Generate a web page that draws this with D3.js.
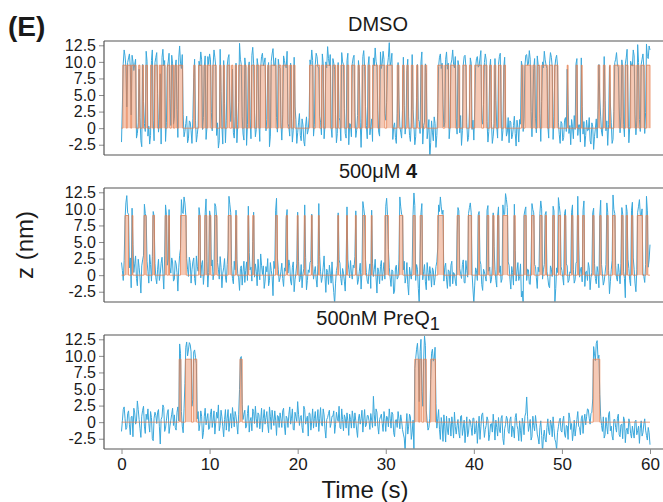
<!DOCTYPE html>
<html>
<head>
<meta charset="utf-8">
<style>
  body { margin: 0; background: #fff; }
  text { font-family: "Liberation Sans", Arial, sans-serif; fill: #1a1a1a; }
</style>
<script src="https://cdnjs.cloudflare.com/ajax/libs/d3/7.8.5/d3.min.js"></script>
</head>
<body>
<div id="chart"></div>
<script>
// ---- data ----
const sampleStep = 0.2; // s between the main samples; the "Mid" arrays sit halfway between
const xTicks = [0, 10, 20, 30, 40, 50, 60];
const yTicks = [-2.5, 0, 2.5, 5, 7.5, 10, 12.5];
const panelTitles = ["DMSO", "500\u03bcM ", "500nM PreQ"];
const highLevels = [9.5, 9.0, 9.5];

// high-z dwell intervals of the idealized two-state fit [start, end] (s)
const dmsoHigh = [[0.15,0.55],[0.65,1.05],[1.15,1.65],[1.95,2.1],[2.35,2.5],[2.75,2.95],[3.3,3.55],[3.75,4.1],[4.3,4.45],[4.55,4.95],[5.2,5.5],[5.65,5.9],[6.05,6.3],[6.45,6.95],
  [8.2,8.35],[8.75,9.15],[9.35,9.6],[9.75,10.15],[10.35,10.75],[11.15,11.3],[11.55,11.7],[12.0,12.3],[12.5,12.65],[12.9,13.05],[13.3,13.7],[13.9,14.15],[14.4,14.55],[14.75,15.1],[15.3,15.6],[15.75,16.35],[16.6,16.75],[16.95,17.55],[17.8,18.1],[18.3,18.9],[19.1,19.3],[19.5,19.7],
  [21.35,21.75],[22.0,22.5],[22.7,22.95],[23.15,23.75],[24.0,24.3],[24.5,24.65],[24.9,25.3],[25.6,25.8],[26.1,26.5],[26.85,27.0],[27.3,27.7],[28.0,28.2],[28.5,29.1],[29.3,29.9],[30.1,30.75],[31.3,31.5],[31.9,32.1],[32.4,32.55],[32.9,33.1],[33.5,33.65],[34.0,34.2],[34.45,34.65],
  [35.9,36.5],[36.7,37.15],[37.35,37.95],[38.2,38.4],[38.75,39.15],[39.5,39.75],[40.1,40.9],[41.1,41.5],[41.8,42.0],[42.3,42.5],[42.8,43.1],[43.4,43.6],
  [45.4,45.6],[45.8,46.5],[46.7,46.95],[47.2,47.5],[47.7,48.35],[48.55,48.95],[49.15,49.55],
  [50.6,50.7],[51.6,51.75],[52.2,52.3],[54.1,54.3],[54.7,54.9],[55.4,55.5],[55.9,56.5],[56.7,56.95],[57.2,57.5],[57.8,58.3],[58.5,58.75],[58.95,59.35],[59.6,60.0]];

const cmpdHigh = [[0.4,0.8],[1.2,1.3],[2.55,2.8],[3.55,3.75],[4.95,5.15],[5.35,5.45],[6.7,7.35],[8.75,8.95],[9.45,9.7],[9.95,10.15],[10.6,10.85],[12.1,12.45],[12.95,13.1],[14.35,14.45],[14.9,15.05],[17.5,17.7],[18.7,18.85],[19.95,20.05],[20.75,20.85],[21.55,21.65],[22.35,22.45],[24.55,24.65],[25.55,25.65],[26.55,26.65],[27.4,27.7],[28.35,28.45],[29.9,30.3],[31.55,31.95],[33.1,33.35],[33.9,34.15],[35.9,36.55],[38.1,38.35],[39.35,39.75],[40.5,40.65],[41.5,41.7],[42.15,42.3],[42.7,42.85],[43.3,43.85],[44.55,44.7],[45.7,45.95],[46.55,46.85],[47.5,47.75],[48.1,48.25],[48.95,49.15],[49.6,49.85],[50.3,50.45],[51.1,51.25],[51.75,51.9],[52.35,52.55],[53.5,53.65],[54.3,54.45],[55.1,55.25],[55.75,56.05],[56.75,56.95],[57.3,57.45],[57.9,58.05],[58.55,59.15],[59.55,59.75]];

const preq1High = [[6.55,6.75],[7.25,7.95],[8.15,8.55],[13.45,13.7],[33.3,33.75],[33.85,34.1],[34.3,34.6],[35.1,35.65],[53.55,54.3]];

// raw z traces (nm): main samples at 0, 0.2, ... 60 s
const dmsoTrace = [
  -2.1, 9.8, 10.9, 3.2, 10.6, 9.2, 11.0, 8.7, 10.4, -0.8,
  8.9, -1.9, 9.6, 0.7, 11.6, -1.2, -2.4, 10.2, 1.1, 9.9,
  11.4, -0.6, 8.2, 10.7, 9.4, -2.0, 9.1, 11.3, 0.4, 9.7,
  1.5, 10.3, -1.4, 12.4, 9.0, 2.1, -0.5, 1.8, -1.6, 0.9,
  -2.3, 7.6, 1.2, -1.0, 10.1, 11.5, -0.2, 9.3, -1.7, 10.8,
  11.2, 2.4, 9.5, 10.7, -1.1, -3.0, 11.9, 0.3, 10.2, -2.2,
  9.4, 11.1, 1.0, 8.9, -1.5, 9.8, 0.6, 12.8, 9.6, -0.9,
  10.6, -2.6, 9.1, 1.4, 11.0, 9.7, -1.3, 10.5, 0.8, 9.2,
  11.3, 9.9, -0.4, 8.8, -2.8, 10.1, 12.0, 9.5, 1.6, 10.4,
  9.0, -1.8, 10.9, 9.3, 11.6, 0.2, 9.8, -2.1, 10.7, 1.3,
  -0.7, 2.2, -1.9, 0.5, -2.7, 1.7, -0.3, 10.3, 11.8, -1.2,
  9.6, 10.8, 9.1, 0.9, 11.2, -1.6, 10.0, 12.3, 9.4, 0.1,
  10.5, 8.9, -2.2, 9.9, 1.1, 11.4, 9.6, -0.8, 10.2, -2.5,
  0.6, 9.7, 11.0, -1.4, 1.9, 8.6, -2.9, 10.8, 9.3, 0.4,
  9.5, -1.0, 1.4, 10.6, 12.1, 9.2, -0.6, 11.5, 9.8, 10.4,
  1.2, 9.4, 12.9, 10.1, -1.7, 0.8, -2.3, 9.9, 0.3, -1.5,
  10.7, -0.9, 8.7, 1.7, -2.0, 11.1, 0.5, -1.3, 9.6, 1.0,
  10.0, -2.4, 0.9, 8.4, -0.4, -4.8, 1.1, -1.9, 0.7, -1.1,
  9.3, 11.2, 9.8, 0.2, 10.4, 8.9, -1.6, 9.7, 11.8, 9.1,
  1.4, 10.2, -0.7, -2.6, 9.5, 11.0, 0.8, -1.4, 10.6, -0.2,
  -1.8, 9.1, 10.8, 9.4, 11.7, 0.6, 9.9, 10.3, -2.1, 9.0,
  1.0, -1.2, 10.5, 0.3, 9.6, 11.3, -1.9, 9.2, 2.0, -0.6,
  -2.2, 0.9, -1.0, 1.8, -2.7, 0.1, 1.3, 10.1, -0.5, 9.4,
  11.1, 9.7, 10.4, -1.3, 9.0, 1.5, 10.9, 9.3, -2.0, 10.0,
  11.6, 9.5, 0.4, 9.8, 10.7, -1.7, 9.2, 11.0, 0.9, -2.3,
  0.7, -1.4, 1.6, 8.9, -0.8, -2.5, 0.2, 1.9, 9.7, -1.1,
  0.5, 10.6, -0.9, -2.8, 1.2, -0.3, -1.9, 0.8, -3.2, 0.0,
  -1.5, 9.6, 1.7, -1.2, 10.8, -0.4, -2.6, 9.3, 0.9, -1.7,
  9.9, 11.4, 9.2, -0.7, 10.3, 0.6, 9.7, 11.9, -2.2, 10.1,
  9.4, 10.9, -1.0, 12.6, 1.3, 9.6, 11.2, -0.8, 12.7, 10.5,
  11.8
];
// values at 0.1, 0.3, ... 59.9 s
const dmsoMid = [
  3.5, 11.8, 9.3, 9.9, 11.2, 2.0, 10.1, 9.6, -1.5, 0.8,
  1.6, -2.8, 4.0, -0.5, 10.1, 0.3, -1.1, 11.8, -1.9, 10.7,
  5.2, 1.3, -2.4, 11.9, 10.2, 0.8, 10.0, 4.5, 11.0, 0.6,
  9.2, 2.8, 10.6, 9.8, 11.1, -1.3, 0.7, -2.2, 1.1, -0.4,
  1.5, 10.4, -2.1, 0.4, 9.4, 10.3, 1.6, 10.9, 0.1, 9.6,
  10.3, -0.4, 11.8, 9.3, 0.8, -1.9, 5.5, -2.4, 3.7, 1.2,
  10.6, 4.1, 2.6, -0.7, 1.8, -2.2, 3.9, 10.4, 1.7, -1.8,
  9.1, 0.5, 10.0, -1.6, 12.2, 2.3, -0.2, 9.4, -2.0, 10.8,
  9.4, 10.6, 1.3, 9.9, -1.2, 11.2, 9.4, 10.6, -0.6, 9.2,
  0.9, 2.0, 10.2, 9.1, 0.7, -1.2, 1.5, -0.3, 3.2, -2.3,
  0.8, -1.1, 1.4, -2.0, 0.3, -0.9, 1.6, 9.6, 10.2, 0.6,
  11.3, 9.2, 1.8, -1.0, 9.7, 0.4, 9.1, 10.5, 11.1, -1.4,
  9.8, 2.1, -0.8, 1.6, -1.9, 10.0, 3.0, -1.5, 11.3, 0.7,
  -1.3, 10.6, 2.4, -0.3, 10.2, 0.9, 1.5, 11.7, 3.3, -1.6,
  10.8, 0.3, -2.0, 9.4, 10.1, 2.6, -1.2, 9.0, 11.6, 2.2,
  3.9, 10.7, 9.5, 11.3, 0.2, -1.4, 2.2, 4.1, -0.6, 2.7,
  3.4, 0.6, 10.4, -1.1, 0.9, 2.8, -2.5, 4.6, 1.3, -0.8,
  11.5, 0.4, 9.7, -1.6, 1.3, -2.2, -0.6, 1.7, -2.9, 2.4,
  10.7, 9.0, 3.5, 0.9, 11.5, 9.8, 0.3, 10.3, 9.6, 10.8,
  -0.9, 9.3, 1.9, -0.4, 10.8, 9.2, -2.0, 2.3, 9.8, 1.2,
  2.9, 10.5, 9.2, 10.6, 1.4, 3.6, 11.2, 1.0, -0.5, 10.4,
  -2.3, 0.7, 4.2, -1.5, 10.8, 2.6, -0.4, 10.7, -1.2, 1.6,
  1.1, -1.6, 0.4, -0.8, 1.2, -2.1, 0.6, 9.2, 1.4, 11.0,
  9.5, 11.7, 2.5, 3.8, 10.5, -0.7, 9.6, 2.2, 4.0, 9.1,
  10.3, 9.0, -1.5, 11.4, 9.2, 1.8, 10.5, 9.4, -1.0, 1.0,
  -1.9, 1.2, -0.5, 3.6, 0.4, 1.3, -1.6, -0.2, 10.5, 0.5,
  -2.1, 3.3, 1.0, -1.1, -0.4, 1.6, -2.4, 0.2, -1.3, 1.4,
  2.8, 4.4, -0.6, 3.1, 4.2, 1.1, 0.6, 3.8, -2.3, 2.5,
  10.4, 9.5, 3.2, 1.7, 9.1, -1.3, 10.6, 4.1, 0.2, 9.5,
  11.8, 2.0, 1.1, 9.9, -0.5, 10.4, 9.1, 2.4, 10.8, 12.4
];

const cmpdTrace = [
  1.9, -0.8, 8.4, 12.0, 9.2, 2.6, 10.1, 0.4, 2.9, -1.6,
  1.2, -2.7, 2.3, 10.7, 8.8, 0.6, 3.1, -0.9, 9.6, 1.8,
  -1.3, 2.4, 0.2, 2.7, -2.1, 10.6, 1.5, 9.9, 0.3, 2.0,
  -0.6, 1.7, -2.4, 3.0, 11.4, 9.3, 10.9, 2.5, -0.2, 1.9,
  0.8, 2.6, -1.5, 1.3, 10.2, -0.4, 2.2, 0.5, 11.5, -1.8,
  9.7, 1.4, -0.7, 10.8, 8.6, 0.9, 2.8, -1.9, 1.1, -0.3,
  1.6, 11.9, 9.4, -0.5, 2.1, 9.8, 0.2, -2.3, 1.4, 0.6,
  -1.1, 2.0, 10.4, 0.8, -0.9, 9.5, 1.7, -1.6, 0.4, 3.2,
  0.1, -2.0, 1.3, 2.5, -0.8, 0.7, -3.1, 1.0, 11.6, 0.9,
  -0.4, 1.8, -1.7, 0.6, 9.9, 2.3, -0.9, 1.2, -2.5, 0.3,
  9.5, -1.0, 1.6, 0.2, 10.6, -2.2, 0.8, 1.9, 9.2, -0.6,
  1.3, -1.8, 10.8, 0.5, -0.3, 2.9, -2.6, 0.4, 1.5, -1.2,
  -0.9, -4.4, 0.7, 9.4, 1.8, -1.5, 0.3, -2.4, 10.3, 0.9,
  2.2, -0.6, 1.1, 9.7, -1.4, 0.6, -2.1, 11.1, 9.0, 0.4,
  -1.3, 1.7, 9.8, -0.2, 2.4, -2.7, 0.5, 1.3, -0.8, 1.9,
  10.4, 9.1, 1.2, -1.7, 0.6, -2.4, 1.5, -0.3, 11.8, 9.2,
  0.8, -1.2, 1.9, -3.0, 0.2, 1.4, 12.4, -0.8, 0.9, -4.3,
  9.4, -0.7, 1.6, -2.2, 0.4, 1.3, -1.8, 0.7, -0.4, 2.0,
  10.6, 11.8, 9.2, -0.9, 1.8, -2.0, 0.6, 1.5, -1.3, 0.2,
  -1.6, 10.2, 1.0, -0.5, 2.3, -1.2, 0.7, 9.3, 10.9, 0.3,
  -4.2, 1.1, -0.8, 9.6, 1.6, -2.3, 0.5, -0.9, 10.5, 1.2,
  -0.7, 9.4, 0.9, -1.8, 10.3, 1.4, -0.6, 9.1, 12.3, 10.2,
  1.5, -2.1, 0.4, 10.7, -0.9, 1.9, -0.2, -3.3, -4.3, 9.8,
  -0.8, 0.8, -1.4, 10.8, 9.4, 1.3, -2.0, 0.5, 11.2, -0.6,
  1.6, 9.6, -0.4, -1.9, 0.9, 10.4, -4.2, 1.1, 11.7, 9.3,
  0.7, -1.5, 9.9, 1.4, -0.8, 0.3, 10.6, -1.2, 1.8, 11.9,
  -0.3, 1.2, 9.8, -1.7, 0.6, 1.9, -2.2, 0.4, 10.1, -0.5,
  1.3, -1.9, 11.3, 0.2, -0.9, 1.6, 9.5, -2.8, 0.8, 12.1,
  9.3, -0.4, 1.7, -1.3, 10.2, 0.6, -3.4, 9.6, 1.0, -1.6,
  11.0, 0.9, -2.5, 9.5, 11.4, 9.0, 0.3, -1.1, 11.9, 1.2,
  4.6
];
const cmpdMid = [
  0.7, 2.2, 10.9, 9.4, 1.1, -1.9, 4.6, 1.7, -0.5, 2.4,
  -0.3, 1.4, 3.0, 9.3, 2.1, -1.2, 1.6, 2.8, 8.9, -0.4,
  0.9, -0.8, 1.8, 0.3, 2.9, 9.1, 2.3, 1.2, 2.6, -0.9,
  2.2, 0.4, 1.1, 4.0, 9.5, 11.8, 9.0, 0.9, 2.7, -1.2,
  2.0, -0.5, 2.9, 0.6, 9.0, 1.6, -1.4, 9.4, 2.1, 0.4,
  8.8, 2.3, 0.5, 10.4, 1.9, -0.6, 1.2, 0.3, 2.5, -1.1,
  3.8, 10.7, 1.5, -1.3, 0.8, 2.4, -0.4, 1.0, -1.5, 2.1,
  0.7, -0.8, 3.4, 1.2, 5.1, -0.3, 0.6, 2.4, -0.7, 1.5,
  1.4, -0.9, 0.5, -1.6, 1.9, -0.2, 2.1, 9.8, 2.6, -1.0,
  0.6, -0.5, 1.1, 8.5, 0.3, 1.4, -1.5, 2.0, -0.7, 1.7,
  2.1, -0.4, -1.9, 1.0, 2.7, -0.8, 0.4, 2.2, 1.6, 0.5,
  -0.6, 1.6, 2.8, -1.1, 1.2, -0.2, 0.9, -1.4, 0.3, 2.0,
  -2.6, -1.2, 1.4, 2.3, -0.5, 1.0, -0.9, 1.7, 2.4, -0.4,
  0.3, 1.5, 2.8, 0.9, -0.7, 1.8, 0.4, 10.1, 2.4, -0.9,
  0.6, -2.0, 1.8, 0.9, -0.4, 1.1, -1.3, 2.2, 0.5, -0.6,
  11.6, 3.9, -0.4, 0.8, -2.8, 1.1, -0.6, 2.3, 10.3, 9.0,
  2.1, -0.3, -1.4, 1.2, -0.6, 9.2, 10.5, 1.6, -2.0, 3.5,
  10.8, 0.5, -1.0, 1.9, -0.8, 0.2, 1.1, -1.5, 1.3, 4.1,
  9.6, 10.3, 9.8, 1.2, -0.6, 0.8, -1.7, 2.1, 0.4, -0.9,
  6.2, 9.7, 0.2, 1.6, -1.1, 2.2, -0.3, 10.2, 9.4, -2.1,
  -1.5, 0.7, 9.1, 2.2, -1.4, 0.9, -0.2, 9.8, 0.6, -1.2,
  1.4, 4.3, -0.8, 8.9, 0.4, -1.1, 10.6, 9.2, 11.4, 2.0,
  -0.6, 1.3, -1.5, 3.7, 0.6, -0.8, 1.7, -2.4, 9.0, 10.3,
  0.9, -1.3, 2.0, 9.9, 1.6, -0.4, 1.2, 9.3, 10.0, 0.8,
  9.2, 0.6, -1.6, 1.4, -0.2, 9.7, -2.0, 0.4, 10.5, 1.3,
  -0.4, 9.3, 1.7, -1.1, 0.5, 9.5, 0.9, -0.7, 2.1, 5.0,
  0.8, -1.0, 11.2, 0.5, -0.8, 1.1, -0.4, 9.4, 1.8, -1.3,
  0.4, 9.0, 1.6, -1.5, 0.3, 10.9, 0.7, -1.0, 2.2, 9.9,
  1.5, -0.9, 0.4, 1.8, 9.2, -0.5, 10.6, 2.4, -0.8, 9.8,
  2.6, -1.2, 0.8, 10.4, 9.1, 10.0, -0.2, 1.6, 9.7, 2.3
];

const preq1Trace = [
  -1.4, 1.9, 0.6, -0.8, 1.7, -1.9, 0.9, 2.1, -0.3, 3.2,
  0.4, -2.3, 1.8, -0.6, 1.2, 2.0, -1.5, 0.7, -2.8, 1.5,
  -0.2, 1.9, -3.3, 0.8, 2.2, -0.9, 1.4, -1.7, 0.3, 2.1,
  1.1, -1.2, 2.3, 11.8, 1.6, -1.6, 5.8, 12.1, 10.9, 11.7,
  2.4, 10.6, 9.8, 0.5, -1.3, 1.7, -2.5, 0.9, -0.4, 1.3,
  -0.9, 2.0, 0.3, -1.8, 1.5, 2.6, -0.5, 0.8, -2.2, 1.9,
  0.6, -1.4, 1.3, 2.2, -0.7, 0.9, -1.8, 4.9, 9.9, 0.4,
  1.8, -0.6, 2.5, 0.2, -1.3, 1.6, 2.4, -0.8, 1.1, 0.3,
  -1.5, 1.9, 0.7, -0.4, 2.3, -1.1, 0.5, 1.7, -2.0, 0.9,
  1.4, -0.8, 2.1, -1.9, 0.6, 1.2, -0.3, 2.0, -1.2, 0.8,
  3.1, -0.5, 1.0, -1.6, 1.9, 0.4, -2.1, 1.3, 0.2, -0.9,
  1.6, 0.3, -1.4, 2.2, -0.6, 1.1, -2.4, 0.7, 1.8, -0.2,
  0.9, -1.7, 1.5, 0.1, -0.8, 2.0, -1.3, 0.6, 1.4, -2.0,
  0.4, 1.7, -0.9, 0.2, -2.3, 1.2, 0.5, -1.5, 1.9, -0.4,
  1.0, -1.1, 0.3, 3.9, -0.6, 1.5, -1.8, 0.8, -0.2, 1.6,
  -1.4, 0.7, 2.0, -0.9, 1.2, -2.2, 0.4, 1.6, -1.0, 0.2,
  -1.8, -4.4, 1.3, -0.6, 0.8, -1.5, -4.5, 9.6, 11.9, 3.1,
  12.5, 2.4, 13.0, 1.8, -1.2, 0.6, 10.4, 9.2, 11.3, -0.9,
  1.9, -2.6, -0.4, 1.1, -3.0, -1.2, 0.6, -2.1, -0.3, 1.5,
  -1.8, 0.4, -2.4, 1.0, -0.9, -3.1, 0.8, -1.5, 0.2, -2.0,
  0.6, -1.3, -3.2, 0.9, -0.7, 1.4, -2.3, -0.5, 0.3, -1.9,
  -0.2, 1.2, -2.7, -0.8, 0.7, -1.6, 1.0, -3.4, -0.4, 0.5,
  -1.7, 0.8, -0.6, -2.4, 1.3, -1.1, 0.2, -2.9, -0.3, 0.9,
  3.8, -1.4, 0.4, -2.2, -0.5, 1.0, -1.8, -3.3, 0.2, -4.6,
  -1.2, -3.0, 0.5, -1.9, -0.4, 0.8, -2.6, -4.2, -0.7, 0.6,
  -1.5, 0.9, -2.3, -0.6, 1.4, -1.1, -2.8, 0.3, -0.9, 1.6,
  -0.8, 0.5, -1.7, 1.2, 0.8, 1.9, -0.3, 1.5, 11.4, 9.3,
  12.3, 10.1, 0.9, -1.4, -2.4, 0.7, -1.8, 1.6, -0.6, -2.7,
  0.4, -1.5, 1.2, -2.2, -0.3, 0.8, -3.1, -0.9, 0.5, -1.7,
  -0.6, -2.4, 0.3, -1.3, -3.2, 0.2, -1.6, 0.5, -2.0, -0.8,
  -3.4
];
const preq1Mid = [
  0.2, 2.3, -1.1, 1.3, -0.4, 0.8, -2.2, 1.4, 0.1, 1.9,
  -1.0, 0.9, 2.4, -1.7, 0.4, -0.2, 1.6, -2.5, 0.6, 1.0,
  1.5, -0.7, 0.4, 2.6, -1.4, 0.3, 1.9, -0.6, 1.2, -0.5,
  -0.8, 1.5, 0.2, 10.4, -0.6, 2.0, 11.3, 10.0, 12.0, 10.6,
  3.4, 10.9, 8.8, 1.6, -0.3, 0.9, -1.6, 2.1, 0.5, -1.1,
  1.2, -0.8, 1.7, -0.1, 0.6, -1.3, 1.8, -0.7, 0.4, -1.2,
  1.9, 0.2, -0.9, 0.8, 1.6, -0.4, 1.1, 9.7, 2.7, 1.2,
  -0.9, 1.3, -1.5, 0.7, 2.0, -0.2, 0.5, 1.4, -1.0, 2.1,
  0.6, -0.3, 1.6, -1.6, 0.9, 1.8, -0.5, 0.3, 1.0, -0.8,
  0.5, 1.7, -0.6, 0.9, -0.8, 2.3, 0.6, -1.1, 1.5, 0.1,
  1.2, 0.7, -0.8, 2.4, -0.3, 0.9, 1.4, -1.2, 2.0, 0.6,
  -0.7, 1.9, 0.5, -0.3, 2.0, -1.1, 0.4, 1.3, -0.8, 0.9,
  1.7, -0.4, 0.6, 2.4, -1.0, 0.4, 1.1, -0.9, 0.2, 1.2,
  -0.9, 0.6, 1.4, -1.2, 0.5, -0.3, 1.8, 0.3, -0.7, 1.0,
  0.2, 1.3, -0.8, 1.1, 2.0, -0.6, 0.4, 1.2, -1.4, 0.5,
  0.9, -0.7, 0.6, 1.5, -1.6, 0.3, -0.8, 0.5, 1.1, -1.1,
  -2.4, -0.6, -1.8, 1.2, -2.6, 0.3, 8.1, 11.0, 9.4, 10.7,
  4.6, 9.2, 11.6, 0.2, -0.8, 6.4, 11.0, 9.6, 2.8, 0.5,
  -1.1, 0.7, -2.9, -0.6, 0.9, -1.9, -0.2, 0.8, -2.4, -0.7,
  -0.5, -1.6, 0.9, -2.0, 0.3, -1.2, -2.2, 0.4, -0.8, 0.6,
  -1.8, 0.2, -0.9, -2.6, 1.1, -0.4, -1.1, 0.8, -2.8, -0.3,
  -1.5, -0.4, 0.3, -2.1, -1.2, 0.6, -2.5, -1.0, 0.9, -1.4,
  0.4, -2.2, -1.1, 0.7, -0.5, -2.8, -1.3, 0.6, -1.9, 1.4,
  0.8, -0.6, -2.7, 0.9, -1.3, -0.2, -2.4, -0.8, -2.0, -2.2,
  -2.6, -0.8, -1.4, 0.3, -2.2, -1.0, -3.0, -1.6, 0.2, -1.3,
  0.2, -1.8, -0.5, -2.6, 0.6, -0.2, -1.5, -2.1, 0.4, -0.6,
  -1.9, 1.0, 0.2, -0.4, 2.0, 0.6, 1.3, 3.5, 10.3, 11.9,
  9.6, 4.2, -0.5, 0.8, -1.9, -0.7, 1.2, -1.3, -2.1, 0.4,
  -0.8, 0.6, -1.9, -0.4, -2.5, 0.3, -1.2, -1.8, -0.1, -2.4,
  -1.5, 0.1, -1.9, -0.6, -0.9, -2.1, -0.3, -1.2, -2.7, -1.6
];

// ---- layout ----
const width = 663, height = 502;
const panelTops = [41, 188, 335];
const panelH = 114;
const frameLeft = 104, frameRight = 670;
const blue = "#3aa8dc", orange = "#e67f4f";

const svg = d3.select("#chart").append("svg")
  .attr("width", width)
  .attr("height", height);

const x = d3.scaleLinear().domain([0, 60]).range([121.5, 650]);

const traces = [dmsoTrace, cmpdTrace, preq1Trace];
const mids = [dmsoMid, cmpdMid, preq1Mid];
const highs = [dmsoHigh, cmpdHigh, preq1High];

svg.append("text")
  .attr("x", 8).attr("y", 36)
  .style("font-size", "28px").style("font-weight", "bold")
  .text("(E)");

panelTops.forEach((top, p) => {
  const y = d3.scaleLinear().domain([-4.05, 13.15]).range([top + panelH, top]);
  const g = svg.append("g");

  const clipId = "clip" + p;
  svg.append("clipPath").attr("id", clipId)
    .append("rect")
    .attr("x", frameLeft).attr("y", top)
    .attr("width", frameRight - frameLeft).attr("height", panelH);

  const plot = g.append("g").attr("clip-path", "url(#" + clipId + ")");

  // raw trace: merge main samples and half-step samples
  const pts = [];
  traces[p].forEach((v, i) => {
    pts.push([i * sampleStep, v]);
    if (i < mids[p].length) pts.push([i * sampleStep + sampleStep / 2, mids[p][i]]);
  });
  plot.append("path")
    .datum(pts)
    .attr("fill", "none")
    .attr("stroke", blue)
    .attr("stroke-width", 1)
    .attr("stroke-linejoin", "round")
    .attr("d", d3.line().x(d => x(d[0])).y(d => y(d[1])));

  // idealized two-state fit
  const hi = highLevels[p];
  plot.selectAll("rect.hi")
    .data(highs[p])
    .enter().append("rect")
    .attr("class", "hi")
    .attr("x", d => x(d[0]))
    .attr("width", d => Math.max(0.8, x(d[1]) - x(d[0])))
    .attr("y", y(hi))
    .attr("height", y(0) - y(hi))
    .attr("fill", orange)
    .attr("fill-opacity", 0.42);

  const fit = [[0, 0]];
  highs[p].forEach(d => {
    fit.push([d[0], 0], [d[0], hi], [d[1], hi], [d[1], 0]);
  });
  fit.push([60, 0]);
  plot.append("path")
    .datum(fit)
    .attr("fill", "none")
    .attr("stroke", orange)
    .attr("stroke-opacity", 0.75)
    .attr("stroke-width", 1)
    .attr("d", d3.line().x(d => x(d[0])).y(d => y(d[1])));

  // frame: top and bottom grey rules
  g.append("line")
    .attr("x1", frameLeft).attr("x2", frameRight)
    .attr("y1", top).attr("y2", top)
    .attr("stroke", "#8c8c8c").attr("stroke-width", 1.5);
  g.append("line")
    .attr("x1", frameLeft).attr("x2", frameRight)
    .attr("y1", top + panelH).attr("y2", top + panelH)
    .attr("stroke", "#8c8c8c").attr("stroke-width", 1.5);

  // y axis
  const yAxis = d3.axisLeft(y)
    .tickValues(yTicks)
    .tickSize(5)
    .tickPadding(3)
    .tickFormat(d => d === 0 ? "0" : d.toFixed(1));
  const ya = g.append("g")
    .attr("transform", "translate(" + frameLeft + ",0)")
    .call(yAxis);
  ya.select(".domain").remove();
  ya.selectAll(".tick line").attr("stroke", "#8c8c8c");
  ya.selectAll(".tick text")
    .style("font-size", "16px")
    .attr("fill", "#1a1a1a");
  g.append("line")
    .attr("x1", frameLeft).attr("x2", frameLeft)
    .attr("y1", top).attr("y2", top + panelH)
    .attr("stroke", "#555").attr("stroke-width", 1.2);

  // title
  const title = g.append("text")
    .attr("x", 378)
    .attr("y", top - 10)
    .attr("text-anchor", "middle")
    .style("font-size", "20px");
  title.append("tspan").text(panelTitles[p]);
  if (p === 1) title.append("tspan").style("font-weight", "bold").text("4");
  if (p === 2) title.append("tspan").attr("dy", 5).style("font-size", "18px").text("1");

  if (p === 2) {
    const xAxis = d3.axisBottom(x)
      .tickValues(xTicks)
      .tickSize(5)
      .tickPadding(4);
    const xa = g.append("g")
      .attr("transform", "translate(0," + (top + panelH) + ")")
      .call(xAxis);
    xa.select(".domain").remove();
    xa.selectAll(".tick line").attr("stroke", "#8c8c8c");
    xa.selectAll(".tick text")
      .style("font-size", "17px")
      .attr("fill", "#1a1a1a");
  }
});

svg.append("text")
  .attr("x", 365).attr("y", 498)
  .attr("text-anchor", "middle")
  .style("font-size", "24px")
  .text("Time (s)");

svg.append("text")
  .attr("transform", "translate(33,245) rotate(-90)")
  .attr("text-anchor", "middle")
  .style("font-size", "24px")
  .text("z (nm)");
</script>
</body>
</html>
